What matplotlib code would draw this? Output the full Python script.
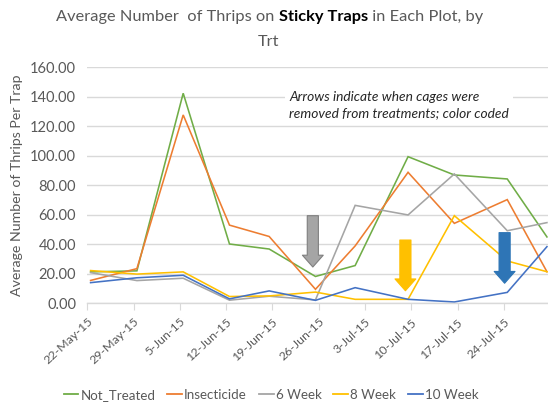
import datetime as dt
import matplotlib
matplotlib.use("Agg")
import matplotlib.pyplot as plt
import matplotlib.dates as mdates
from matplotlib.lines import Line2D

plt.rcParams['font.family'] = ['Lato', 'DejaVu Sans']

# ---- data ----
dates = ["2015-05-22", "2015-05-29", "2015-06-05", "2015-06-12", "2015-06-18",
         "2015-06-25", "2015-07-01", "2015-07-09", "2015-07-16", "2015-07-24",
         "2015-07-30"]
not_treated = [21.3, 22.0, 142.4, 40.2, 36.8, 18.2, 25.6, 99.4, 87.0, 84.3, 45.0]
insecticide = [15.5, 23.5, 127.7, 53.0, 45.3, 9.5, 38.9, 88.8, 54.2, 70.3, 21.4]
week6 = [20.8, 15.4, 17.0, 2.1, 4.8, 2.3, 66.4, 59.9, 87.7, 49.2, 54.7]
week8 = [22.2, 19.8, 21.3, 4.6, 5.0, 7.6, 2.7, 2.7, 59.4, 28.7, 21.4]
week10 = [14.0, 17.3, 19.0, 3.0, 8.4, 2.0, 10.6, 2.7, 0.9, 7.4, 38.4]
series_names = ["Not_Treated", "Insecticide", "6 Week", "8 Week", "10 Week"]
series_colors = ["#70AD47", "#ED7D31", "#A5A5A5", "#FFC000", "#4472C4"]
tick_dates = ["2015-05-22", "2015-05-29", "2015-06-05", "2015-06-12", "2015-06-19",
              "2015-06-26", "2015-07-03", "2015-07-10", "2015-07-17", "2015-07-24"]
tick_labels = ["22-May-15", "29-May-15", "5-Jun-15", "12-Jun-15", "19-Jun-15",
               "26-Jun-15", "3-Jul-15", "10-Jul-15", "17-Jul-15", "24-Jul-15"]
yticks = [0, 20, 40, 60, 80, 100, 120, 140, 160]

# arrows: (date, top value, tip value)
arrow_dates = ["2015-06-25", "2015-07-09", "2015-07-24"]
arrow_tops = [59.4, 42.9, 47.9]
arrow_tips = [24.6, 8.5, 13.6]
arrow_fc = ["#A5A5A5", "#FFC000", "#2E75B6"]
arrow_ec = ["#7F7F7F", "#FFC000", "#2E75B6"]

# ---- figure ----
W, H = 548, 405
fig = plt.figure(figsize=(W / 100, H / 100), dpi=100)
left_px, right_px, top_px, bottom_px = 87.3, 548, 67.3, 303.3
ax = fig.add_axes([left_px / W, 1 - bottom_px / H,
                   (right_px - left_px) / W, (bottom_px - top_px) / H])

def dnum(s):
    return mdates.date2num(dt.datetime.strptime(s, "%Y-%m-%d"))

x = [dnum(d) + 0.5 for d in dates]
all_series = [not_treated, insecticide, week6, week8, week10]
for vals, name, col in zip(all_series, series_names, series_colors):
    ax.plot(x, vals, color=col, lw=1.15, label=name, solid_joinstyle='miter')

x0 = dnum(dates[0])
ax.set_xlim(x0, x0 + 69.66)
ax.set_ylim(0, 160)

gray_txt = "#595959"
ax.set_yticks(yticks)
ax.set_yticklabels([f"{v:.2f}" for v in yticks])
ax.set_xticks([dnum(d) for d in tick_dates])
ax.set_xticklabels(tick_labels, rotation=43, ha='right', va='top',
                   rotation_mode='anchor')
ax.tick_params(axis='y', length=0, pad=8, labelsize=10.5, labelcolor=gray_txt)
ax.tick_params(axis='x', length=5, width=0.8, color="#D9D9D9", pad=4,
               labelsize=8.9, labelcolor=gray_txt)
ax.grid(axis='y', color="#D9D9D9", lw=1.0)
ax.set_axisbelow(True)
for s in ['top', 'right', 'left']:
    ax.spines[s].set_visible(False)
ax.spines['bottom'].set_color("#D9D9D9")
ax.spines['bottom'].set_linewidth(1.0)

ax.set_ylabel("Average Number of Thrips Per Trap", color=gray_txt, fontsize=10.2)
ax.yaxis.label.set_va('center')
ax.yaxis.set_label_coords((17 - left_px) / (right_px - left_px), (bottom_px - 185.5) / (bottom_px - top_px))

# arrows
for d, yt, yb, fc, ec in zip(arrow_dates, arrow_tops, arrow_tips, arrow_fc, arrow_ec):
    xa = dnum(d) + 0.1
    ax.annotate('', xy=(xa, yb), xytext=(xa, yt),
                arrowprops=dict(arrowstyle='simple,head_width=1.5,head_length=0.85,tail_width=0.8',
                                mutation_scale=10, fc=fc, ec=ec, lw=0.8,
                                shrinkA=0, shrinkB=0))

# annotation text
fig.text(289 / W, 1 - 105 / H,
         "Arrows indicate when cages were\nremoved from treatments; color coded",
         fontsize=9.9, style='italic', color="#262626", ha='left', va='center',
         linespacing=1.35,
         bbox=dict(boxstyle='square,pad=0.3', fc='white', ec='none'))

# title with mixed formatting
fig.canvas.draw()
r = fig.canvas.get_renderer()
parts = [("Average Number  of Thrips on ", 'normal', gray_txt),
         ("Sticky Traps", 'bold', "#000000"),
         (" in Each Plot, by", 'normal', gray_txt)]
tfs = 11.8
texts = []
for s, w, c in parts:
    t = fig.text(0, 1 - 17 / H, s, fontsize=tfs, fontweight=w, color=c,
                 ha='left', va='center')
    texts.append(t)
widths = [t.get_window_extent(renderer=r).width for t in texts]
total = sum(widths)
xs = 270 - total / 2
for t, wdt in zip(texts, widths):
    t.set_x(xs / W)
    xs += wdt
fig.text(269 / W, 1 - 42 / H, "Trt", fontsize=tfs, color=gray_txt, ha='center',
         va='center')

# legend
handles = [Line2D([], [], color=c, lw=1.3) for c in series_colors]
fig.legend(handles, series_names, loc='center', bbox_to_anchor=(271 / W, 1 - 395 / H),
           ncol=5, frameon=False, fontsize=9.6, handlelength=1.1, handletextpad=0.15,
           columnspacing=0.9, labelcolor=gray_txt)

fig.savefig("out.png", dpi=100)
